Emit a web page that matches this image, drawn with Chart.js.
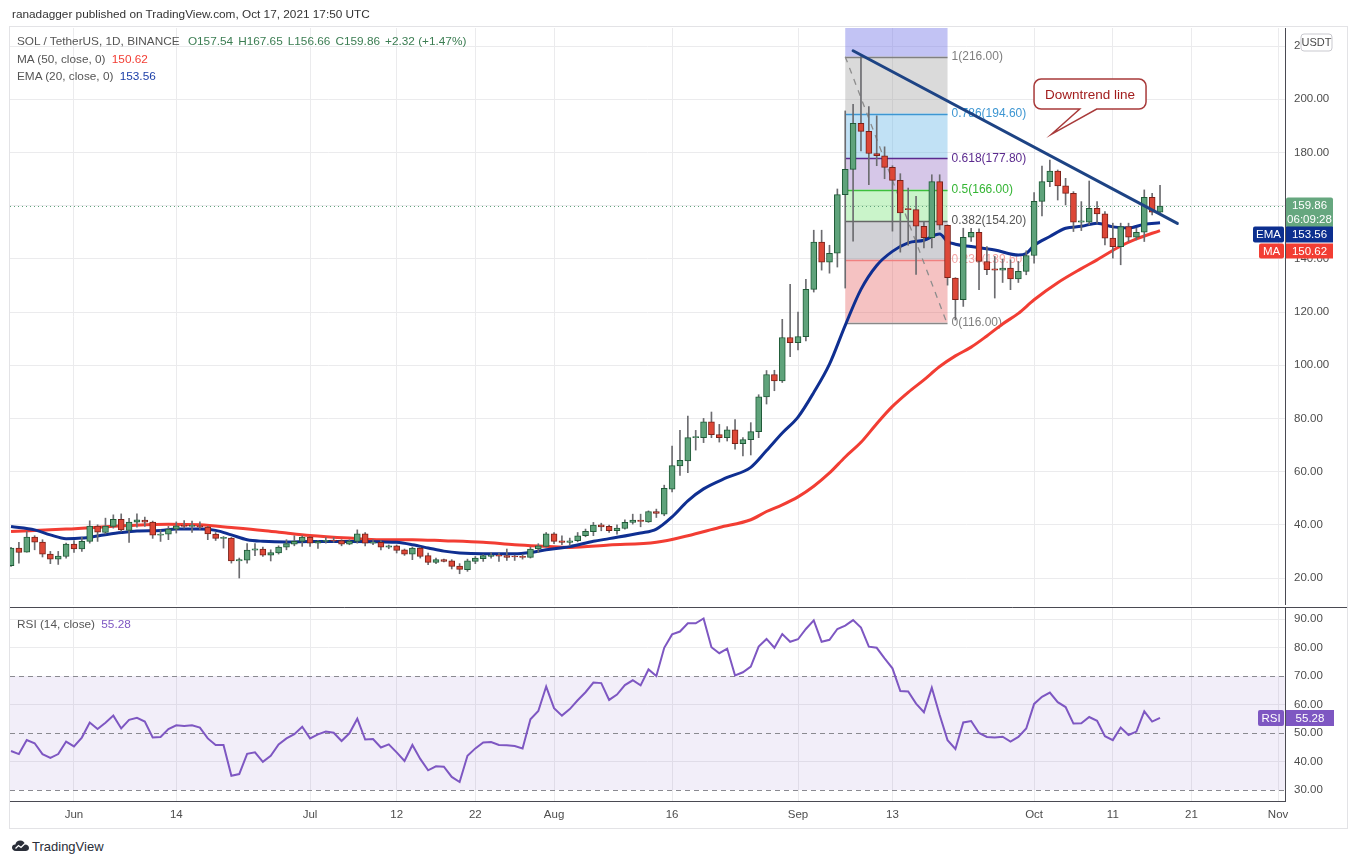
<!DOCTYPE html>
<html>
<head>
<meta charset="utf-8">
<script src="https://cdn.jsdelivr.net/npm/chart.js@4.4.0/dist/chart.umd.min.js"></script>
<style>
  body { margin:0; background:#fff; width:1357px; height:864px; overflow:hidden; position:relative; font-family:"Liberation Sans", Arial, sans-serif; }
  #frame { position:absolute; left:9px; top:26px; width:1339px; height:803px; border:1px solid #e3e3e6; box-sizing:border-box; }
  canvas { position:absolute; left:0; }
  #priceCanvas { top:0; }
  #rsiCanvas { top:605px; }
  .txt { position:absolute; white-space:nowrap; font-size:11.8px; color:#555; z-index:5; }
  .up { color:#3b7d52; margin-left:5px; }
</style>
</head>
<body>
<div id="frame"></div>
<canvas id="priceCanvas" width="1357" height="605"></canvas>
<canvas id="rsiCanvas" width="1357" height="223"></canvas>

<div class="txt" style="left:12px;top:7px;color:#333;">ranadagger published on TradingView.com, Oct 17, 2021 17:50 UTC</div>
<div class="txt" style="left:17px;top:34px;">SOL / TetherUS, 1D, BINANCE <span class="up">O157.54</span><span class="up">H167.65</span><span class="up">L156.66</span><span class="up">C159.86</span><span class="up">+2.32 (+1.47%)</span></div>
<div class="txt" style="left:17px;top:52px;">MA (50, close, 0) <span style="color:#f23d33;margin-left:3px;">150.62</span></div>
<div class="txt" style="left:17px;top:69px;">EMA (20, close, 0) <span style="color:#1c3fa8;margin-left:3px;">153.56</span></div>
<div class="txt" style="left:17px;top:617px;">RSI (14, close) <span style="color:#7e57c2;margin-left:3px;">55.28</span></div>
<div class="txt" style="left:12px;top:839px;color:#2a2e39;font-size:13px;">
  <svg width="17" height="12" viewBox="0 0 17 12" style="vertical-align:-1px;margin-right:3px;">
    <path d="M4 11 C1 11 0 9 0 7.5 C0 5.5 1.6 4.3 3.4 4.5 C3.8 2 5.8 0.5 8.2 0.5 C11 0.5 12.8 2.4 13.1 4.6 C15.3 4.6 17 6 17 8 C17 9.8 15.5 11 13.6 11 Z" fill="#2a2e39"/>
    <path d="M3.5 8.5 L6.5 5.5 L9 7.5 L13 3.5" stroke="#fff" stroke-width="1.3" fill="none"/>
  </svg>TradingView</div>

<script>
// day index 0 = May 24 2021, last candle = Oct 17 2021
var candleOpen = [24.6,31.25,29.75,35.4,33.5,29.0,27.1,28.1,32.75,30.9,
  33.75,39.5,37.1,39.4,42.1,37.9,41.0,41.75,41.0,36.1,
  36.5,38.4,39.6,39.4,39.6,39.1,36.5,34.9,35.0,26.4,
  26.75,30.5,30.9,28.6,29.4,31.6,32.75,33.75,35.4,33.1,
  33.75,34.1,34.1,32.75,33.75,36.6,33.1,33.4,31.6,32.1,
  30.6,29.0,31.25,28.4,25.9,26.9,26.5,24.5,23.1,26.25,
  27.25,28.1,28.6,28.4,28.1,28.1,27.75,30.9,31.9,36.6,
  34.0,33.4,34.0,35.9,37.4,40.0,39.4,37.75,38.6,40.9,
  41.75,41.1,45.0,44.0,53.4,62.1,64.0,72.75,72.75,78.75,
  73.9,72.75,75.75,70.5,72.0,75.0,88.1,96.5,94.1,110.4,
  108.5,110.75,128.5,146.25,138.75,142.1,164.1,173.6,190.9,187.9,
  179.6,178.75,174.4,169.5,158.75,158.5,152.25,147.9,169.0,152.6,
  132.75,124.6,148.1,150.0,139.0,136.25,135.75,136.5,132.4,135.25,
  141.25,161.6,169.0,173.0,167.4,164.6,153.75,153.75,159.0,156.9,
  147.75,144.6,152.1,148.1,150.0,163.1,157.54];
var candleHigh = [31.5,33.4,37.5,35.9,34.4,30.0,30.0,33.1,34.1,35.25,
  41.5,40.0,42.5,43.75,44.1,42.4,44.1,42.9,41.4,38.1,
  39.4,41.1,41.6,41.4,41.1,39.4,37.1,35.6,35.25,27.5,
  32.9,32.9,31.6,30.6,32.1,34.4,35.9,35.9,35.6,34.1,
  35.25,35.25,34.4,34.4,38.1,37.1,34.4,34.1,32.4,32.4,
  30.9,31.6,31.6,29.4,27.5,27.1,26.9,25.4,27.1,28.1,
  28.75,29.6,29.4,30.9,28.6,28.9,31.6,32.9,37.1,37.1,
  35.9,35.0,37.1,38.4,40.9,40.6,39.9,40.0,41.9,44.0,
  44.0,45.25,45.9,54.9,69.6,75.5,80.9,75.5,80.0,82.4,
  77.75,76.9,79.6,72.75,78.4,88.9,98.0,98.1,117.25,130.4,
  120.0,132.25,150.75,150.75,145.1,166.25,195.6,198.1,216.0,197.25,
  193.75,182.1,175.0,172.0,166.6,163.5,154.1,171.6,171.6,152.75,
  132.9,151.5,151.5,151.25,144.6,140.9,139.9,139.6,139.0,143.0,
  164.9,174.9,177.1,173.4,170.25,165.25,161.5,169.25,161.5,157.75,
  153.4,153.4,153.4,151.5,165.9,164.6,167.65];
var candleLow = [24.4,25.6,29.7,30.6,27.9,25.4,25.1,27.5,29.6,30.0,
  33.1,33.75,36.6,38.75,37.5,33.4,39.1,39.4,34.9,33.75,
  34.4,36.9,38.75,37.1,38.4,34.4,34.1,31.25,25.6,20.0,
  25.6,28.4,28.1,26.4,29.0,30.6,32.1,31.9,31.9,31.1,
  33.1,33.4,32.1,32.5,33.1,32.1,32.5,30.6,31.0,29.4,
  28.5,26.9,27.5,25.0,25.4,26.0,23.4,21.6,22.5,25.4,
  26.25,27.5,26.25,26.6,26.6,27.1,27.5,29.6,31.6,32.9,
  32.5,32.2,33.6,35.5,35.9,37.75,37.1,36.5,38.4,40.25,
  39.25,40.9,42.75,43.4,52.4,58.6,59.6,68.1,70.9,72.75,
  71.1,71.5,68.4,65.9,66.25,72.75,85.4,90.4,93.5,103.25,
  105.75,109.1,127.5,135.75,134.6,136.9,129.0,146.6,180.6,167.9,
  175.0,170.1,150.4,142.5,145.1,134.1,144.1,144.1,151.0,130.1,
  117.0,122.1,146.5,128.4,134.0,125.25,131.1,128.4,131.1,134.0,
  138.4,156.1,167.1,162.1,160.25,150.25,150.6,152.75,153.4,145.25,
  140.25,137.75,146.5,147.1,146.5,156.5,156.66];
var candleClose = [31.25,29.6,35.4,33.5,29.0,27.1,28.25,32.75,30.9,33.75,
  39.5,37.25,39.5,42.1,38.1,41.0,41.9,41.0,36.1,36.4,
  38.4,39.6,39.4,39.6,39.1,36.6,34.9,35.0,26.4,26.9,
  30.5,31.0,28.6,29.6,31.6,32.9,33.75,35.4,33.1,33.75,
  34.1,33.9,32.75,33.9,36.6,33.1,33.4,31.6,32.1,30.4,
  29.0,31.25,28.1,25.9,26.9,26.25,24.4,23.25,26.5,27.5,
  28.4,28.6,28.25,27.75,27.9,27.75,30.9,32.1,36.6,33.75,
  33.4,34.0,35.9,37.5,39.9,39.25,37.75,38.75,40.9,41.75,
  41.25,45.0,44.25,53.75,62.25,64.25,72.75,72.9,78.75,73.9,
  72.75,75.75,70.5,72.0,75.0,88.1,96.5,94.1,110.4,108.5,
  110.75,128.5,146.25,138.75,142.1,164.1,173.6,190.9,187.9,179.6,
  178.75,174.4,169.5,157.25,158.5,152.25,147.9,169.0,152.6,132.9,
  124.6,148.1,150.0,139.0,135.9,135.75,136.5,132.4,135.25,141.25,
  161.6,169.0,173.0,167.4,164.6,153.75,154.25,159.0,156.9,147.75,
  144.6,152.1,148.1,150.0,163.1,157.54,159.86];

// EMA 20 and MA 50 at these days
var emaDays = [0,3,5,7,9,11,14,16,19,21,24,26,28,30,32,35,38,43,47,49,51,53,55,57,60,64,66,68,71,74,76,80,82,84,86,88,91,94,96,98,100,102,104,106,108,110,112,114,116,118,119,120,122,125,128,129,130,132,134,136,138,140,142,144,146];
var emaValues = [39.4,38.1,36.2,34.8,35.0,35.8,37.1,37.7,37.9,38.4,38.4,37.9,36.2,34.4,33.8,33.5,33.7,33.75,33.6,33.4,32.5,31.3,30.1,29.4,29.1,29.1,29.6,30.6,31.8,33.8,34.8,36.9,38.4,43.0,49.0,53.5,57.8,61.6,67.9,74.5,80.5,89.75,100.4,115.0,128.5,137.5,142.8,146.0,147.0,149.3,146.5,145.5,144.6,143.3,141.4,142.0,145.0,148.4,151.5,152.2,153.4,152.0,151.6,153.0,153.56];
var maDays = [0,7,15,20,24,28,32,35,38,43,47,51,55,60,64,68,71,76,82,86,90,94,96,98,100,102,104,106,108,110,112,114,116,118,120,122,124,126,128,130,133,136,138,141,143,146];
var maValues = [37.5,38.4,39.75,40.25,40.0,39.0,37.9,36.9,36.0,35.0,34.4,34.4,34.0,33.4,32.5,31.9,31.5,32.4,33.4,35.9,39.0,41.9,45.0,47.5,50.5,54.5,59.5,65.5,71.0,78.0,84.5,89.8,94.5,99.5,103.5,106.8,111.0,115.5,119.5,124.6,131.0,136.3,139.6,144.8,147.5,150.62];

var rsiValues = [43.7,42.6,47.5,46.4,42.6,41.3,42.6,47.0,45.3,48.4,
  53.7,51.4,53.6,56.1,51.6,54.6,55.3,54.0,48.4,48.6,
  51.4,52.7,52.5,52.7,51.9,48.1,45.8,45.8,35.0,35.6,
  42.7,43.2,39.9,42.0,46.0,48.1,49.6,52.2,48.1,49.5,
  50.5,50.1,47.2,49.9,55.0,47.7,47.9,44.9,46.0,43.2,
  40.2,45.8,40.9,36.9,38.3,38.2,34.6,32.8,42.0,44.6,
  46.7,46.8,45.8,45.7,45.4,44.6,54.8,57.7,66.3,58.7,
  56.1,58.4,61.5,64.3,67.7,67.5,61.6,63.5,66.8,68.5,
  66.7,72.3,70.0,79.9,84.6,85.6,88.5,88.5,90.2,80.1,
  78.0,79.6,70.2,71.3,73.3,80.3,83.0,79.9,84.7,82.0,
  82.9,86.5,89.5,82.0,82.7,86.5,87.7,89.6,87.0,80.3,
  79.9,76.2,72.7,64.7,64.6,60.3,57.3,65.9,56.3,47.5,
  44.4,53.7,54.2,50.0,48.6,48.4,48.7,47.0,48.6,51.6,
  60.2,62.7,64.2,60.8,59.1,53.3,53.4,55.6,54.3,48.9,
  47.5,51.9,49.3,50.5,57.6,54.0,55.28];

var tickDays = [8,21,38,49,59,69,84,100,112,130,140,150,161];
var tickLabels = ['Jun','14','Jul','12','22','Aug','16','Sep','13','Oct','11','21','Nov'];
var priceTicks = [20,40,60,80,100,120,140,160,180,200,220];
var rsiTicks = [30,40,50,60,70,80,90];

var fibLevels = [216.00,194.60,177.80,166.00,154.20,139.60,116.00];
var fibRatios = ['1','0.786','0.618','0.5','0.382','0.236','0'];
var fibStartDay = 106, fibEndDay = 119;
var trendDays = [107.0,148.2], trendPrices = [218.2,153.3];
var fibLinkDays = [106.0,118.9], fibLinkPrices = [216.0,116.0];
var calloutDay = 132.24, calloutPrice = 186.9;

var lastPrice = 159.86, lastEma = 153.56, lastMa = 150.62, lastRsi = 55.28;

// styles
var fibLineColors = ['#808080','#3d96d2','#5b2a8e','#3cbf3c','#666666','#f08080','#888888'];
var fibTextColors = ['#7f7f7f','#3d96d2','#5b2a8e','#34b534','#555555','#f2a3a3','#808080'];
var fibFills = ['rgba(150,150,150,0.35)','rgba(100,180,230,0.40)','rgba(120,70,180,0.30)','rgba(80,220,80,0.30)','rgba(120,120,135,0.35)','rgba(225,80,80,0.35)'];
var fibTopFill = 'rgba(120,123,230,0.45)';
var GREEN = '#5fa37b', GREEN_EDGE = '#1f5a37', RED = '#dd4737', RED_EDGE = '#7a2119';
var GRID = '#ebebed', AXIS = '#4a4a52', LABEL = '#4d4d4d';
var FONT = 'Liberation Sans, Arial, sans-serif';

var xMin = -0.13, xMax = 161.88;

var bodies = [], wicks = [], bodyFill = [], bodyEdge = [];
candleOpen.forEach(function(o, i) {
  var c = candleClose[i];
  bodies.push({x: i, y: [o, c]});
  wicks.push({x: i, y: [candleLow[i], candleHigh[i]]});
  bodyFill.push(c >= o ? GREEN : RED);
  bodyEdge.push(c >= o ? GREEN_EDGE : RED_EDGE);
});
var emaPoints = emaDays.map(function(d, i) { return {x: d, y: emaValues[i]}; });
var maPoints = maDays.map(function(d, i) { return {x: d, y: maValues[i]}; });
var rsiPoints = rsiValues.map(function(v, i) { return {x: i, y: v}; });

function clipArea(ctx, a) {
  ctx.beginPath();
  ctx.rect(a.left, a.top, a.right - a.left, a.bottom - a.top);
  ctx.clip();
}

function roundBox(ctx, x, y, w, h, r, fill) {
  ctx.beginPath();
  ctx.roundRect(x, y, w, h, r);
  ctx.fillStyle = fill;
  ctx.fill();
}

var pricePlugin = {
  id: 'priceExtras',
  beforeDatasetsDraw: function(chart) {
    var ctx = chart.ctx, a = chart.chartArea, xs = chart.scales.x, ys = chart.scales.y;
    ctx.save();
    clipArea(ctx, a);
    var x0 = xs.getPixelForValue(fibStartDay), x1 = xs.getPixelForValue(fibEndDay);
    // fib bands
    ctx.fillStyle = fibTopFill;
    ctx.fillRect(x0, a.top, x1 - x0, ys.getPixelForValue(fibLevels[0]) - a.top);
    for (var k = 0; k < fibLevels.length - 1; k++) {
      var yA = ys.getPixelForValue(fibLevels[k]), yB = ys.getPixelForValue(fibLevels[k + 1]);
      ctx.fillStyle = fibFills[k];
      ctx.fillRect(x0, yA, x1 - x0, yB - yA);
    }
    ctx.lineWidth = 1.5;
    fibLevels.forEach(function(lv, k) {
      var y = Math.round(ys.getPixelForValue(lv)) + 0.5;
      ctx.strokeStyle = fibLineColors[k];
      ctx.beginPath(); ctx.moveTo(x0, y); ctx.lineTo(x1, y); ctx.stroke();
    });
    ctx.font = '12px ' + FONT;
    ctx.textBaseline = 'middle';
    ctx.textAlign = 'left';
    fibLevels.forEach(function(lv, k) {
      ctx.fillStyle = fibTextColors[k];
      ctx.fillText(fibRatios[k] + '(' + lv.toFixed(2) + ')', x1 + 4, ys.getPixelForValue(lv));
    });
    // dashed link of the fib
    ctx.strokeStyle = '#8c8c8c';
    ctx.lineWidth = 1.3;
    ctx.setLineDash([6, 6]);
    ctx.beginPath();
    ctx.moveTo(xs.getPixelForValue(fibLinkDays[0]), ys.getPixelForValue(fibLinkPrices[0]));
    ctx.lineTo(xs.getPixelForValue(fibLinkDays[1]), ys.getPixelForValue(fibLinkPrices[1]));
    ctx.stroke();
    // last price dotted line
    var yp = Math.round(ys.getPixelForValue(lastPrice)) + 0.5;
    ctx.strokeStyle = GREEN;
    ctx.lineWidth = 1;
    ctx.setLineDash([1, 3]);
    ctx.beginPath(); ctx.moveTo(a.left, yp); ctx.lineTo(a.right, yp); ctx.stroke();
    ctx.restore();
  },
  afterDatasetsDraw: function(chart) {
    var ctx = chart.ctx, a = chart.chartArea, xs = chart.scales.x, ys = chart.scales.y;
    ctx.save();
    clipArea(ctx, a);
    // downtrend line
    ctx.strokeStyle = '#1d4384';
    ctx.lineWidth = 3;
    ctx.lineCap = 'round';
    ctx.beginPath();
    ctx.moveTo(xs.getPixelForValue(trendDays[0]), ys.getPixelForValue(trendPrices[0]));
    ctx.lineTo(xs.getPixelForValue(trendDays[1]), ys.getPixelForValue(trendPrices[1]));
    ctx.stroke();
    // callout
    var tx = xs.getPixelForValue(calloutDay), ty = ys.getPixelForValue(calloutPrice);
    var left = tx - 17.7, right = tx + 94.3, top = ty - 55, bottom = ty - 25, r = 7;
    var b1 = tx + 28, b2 = tx + 45;
    ctx.beginPath();
    ctx.moveTo(left + r, top);
    ctx.lineTo(right - r, top);
    ctx.arcTo(right, top, right, top + r, r);
    ctx.lineTo(right, bottom - r);
    ctx.arcTo(right, bottom, right - r, bottom, r);
    ctx.lineTo(b2, bottom);
    ctx.lineTo(tx, ty);
    ctx.lineTo(b1, bottom);
    ctx.lineTo(left + r, bottom);
    ctx.arcTo(left, bottom, left, bottom - r, r);
    ctx.lineTo(left, top + r);
    ctx.arcTo(left, top, left + r, top, r);
    ctx.closePath();
    ctx.fillStyle = '#ffffff';
    ctx.fill();
    ctx.strokeStyle = '#a83a3a';
    ctx.lineWidth = 1.5;
    ctx.lineCap = 'butt';
    ctx.stroke();
    ctx.fillStyle = '#a21d1d';
    ctx.font = '13.5px ' + FONT;
    ctx.textAlign = 'center';
    ctx.textBaseline = 'middle';
    ctx.fillText('Downtrend line', (left + right) / 2, (top + bottom) / 2 + 1);
    ctx.restore();
  },
  afterDraw: function(chart) {
    var ctx = chart.ctx, ys = chart.scales.y, ax = ys.left;
    ctx.save();
    // USDT badge
    ctx.beginPath();
    ctx.roundRect(ax + 16, 34, 31, 17, 3);
    ctx.fillStyle = '#fff'; ctx.fill();
    ctx.strokeStyle = '#c9c9cf'; ctx.lineWidth = 1; ctx.stroke();
    ctx.fillStyle = '#4a4a4a';
    ctx.font = '11px ' + FONT;
    ctx.textAlign = 'center'; ctx.textBaseline = 'middle';
    ctx.fillText('USDT', ax + 31.5, 43);
    // last price badge
    var py = ys.getPixelForValue(lastPrice);
    var top = py - 8.5;
    roundBox(ctx, ax + 1, top, 47, 30, 2, '#66a77f');
    ctx.fillStyle = '#fff';
    ctx.font = '11.5px ' + FONT;
    ctx.fillText(lastPrice.toFixed(2), ax + 24.5, top + 8.5);
    ctx.fillText('06:09:28', ax + 24.5, top + 22);
    // EMA badge
    var ey = top + 29;
    roundBox(ctx, ax - 32, ey, 31, 16, 2, '#0c2f8f');
    roundBox(ctx, ax + 1, ey, 47, 16, 0, '#0c2f8f');
    ctx.fillStyle = '#fff';
    ctx.fillText('EMA', ax - 16.5, ey + 8.5);
    ctx.fillText(lastEma.toFixed(2), ax + 24.5, ey + 8.5);
    // MA badge
    var my = ey + 17;
    roundBox(ctx, ax - 26, my, 25, 15, 2, '#f23d33');
    roundBox(ctx, ax + 1, my, 47, 15, 0, '#f23d33');
    ctx.fillStyle = '#fff';
    ctx.fillText('MA', ax - 13.5, my + 8);
    ctx.fillText(lastMa.toFixed(2), ax + 24.5, my + 8);
    ctx.restore();
  }
};

var rsiPlugin = {
  id: 'rsiExtras',
  beforeDatasetsDraw: function(chart) {
    var ctx = chart.ctx, a = chart.chartArea, ys = chart.scales.y;
    ctx.save();
    var y70 = ys.getPixelForValue(70), y30 = ys.getPixelForValue(30);
    ctx.fillStyle = 'rgba(126,87,194,0.10)';
    ctx.fillRect(a.left, y70, a.right - a.left, y30 - y70);
    ctx.strokeStyle = '#8a8a90';
    ctx.lineWidth = 1;
    ctx.setLineDash([5, 4]);
    [30, 50, 70].forEach(function(v) {
      var y = Math.round(ys.getPixelForValue(v)) + 0.5;
      ctx.beginPath(); ctx.moveTo(a.left, y); ctx.lineTo(a.right, y); ctx.stroke();
    });
    ctx.restore();
  },
  afterDraw: function(chart) {
    var ctx = chart.ctx, a = chart.chartArea, ys = chart.scales.y, ax = ys.left;
    ctx.save();
    // separator between panes
    ctx.strokeStyle = AXIS;
    ctx.lineWidth = 1;
    ctx.beginPath(); ctx.moveTo(10, 2.5); ctx.lineTo(1347, 2.5); ctx.stroke();
    var ry = ys.getPixelForValue(lastRsi);
    roundBox(ctx, ax - 27, ry - 8, 26, 16, 2, '#7e57c2');
    roundBox(ctx, ax + 1, ry - 8, 48, 16, 0, '#7e57c2');
    ctx.fillStyle = '#fff';
    ctx.font = '11.5px ' + FONT;
    ctx.textAlign = 'center'; ctx.textBaseline = 'middle';
    ctx.fillText('RSI', ax - 14, ry + 0.5);
    ctx.fillText(lastRsi.toFixed(2), ax + 25, ry + 0.5);
    ctx.restore();
  }
};

function setTicks(list) {
  return function(axis) { axis.ticks = list.map(function(v) { return {value: v}; }); };
}
// keep the axes from reserving room for half-labels at the ends
function fixWidth(w) {
  return function(ax) { ax.width = w; ax.paddingTop = 0; ax.paddingBottom = 0; };
}
function fixHeight(h) {
  return function(ax) { ax.height = h; ax.paddingLeft = 0; ax.paddingRight = 0; };
}

new Chart(document.getElementById('priceCanvas'), {
  type: 'bar',
  data: {
    datasets: [
      { type: 'bar', data: bodies, backgroundColor: bodyFill, borderColor: bodyEdge, borderWidth: 1,
        borderSkipped: false, barThickness: 6, grouped: false, minBarLength: 1, order: 1 },
      { type: 'bar', data: wicks, backgroundColor: '#6c6c70', barThickness: 1, grouped: false, order: 2 },
      { type: 'line', data: emaPoints, borderColor: '#0f2f91', borderWidth: 3, pointRadius: 0,
        cubicInterpolationMode: 'monotone', order: 3 },
      { type: 'line', data: maPoints, borderColor: '#f23d33', borderWidth: 3, pointRadius: 0,
        cubicInterpolationMode: 'monotone', order: 4 }
    ]
  },
  options: {
    responsive: false,
    animation: false,
    layout: { padding: { left: 10, right: 10, top: 28, bottom: 0 } },
    plugins: { legend: { display: false }, tooltip: { enabled: false } },
    scales: {
      x: {
        type: 'linear', min: xMin, max: xMax, offset: false,
        grid: { color: GRID, drawTicks: false, offset: false },
        border: { display: false },
        ticks: { display: false },
        afterBuildTicks: setTicks(tickDays),
        afterFit: fixHeight(0)
      },
      y: {
        position: 'right', min: 9.85, max: 226.77,
        grid: { color: GRID, drawTicks: false },
        border: { display: true, color: AXIS, width: 1 },
        ticks: { padding: 9, color: LABEL, font: { family: FONT, size: 11.5 },
          callback: function(v) { return v.toFixed(2); } },
        afterBuildTicks: setTicks(priceTicks),
        afterFit: fixWidth(62)
      }
    }
  },
  plugins: [pricePlugin]
});

new Chart(document.getElementById('rsiCanvas'), {
  type: 'line',
  data: {
    datasets: [
      { data: rsiPoints, borderColor: '#7e57c2', borderWidth: 2, pointRadius: 0, tension: 0 }
    ]
  },
  options: {
    responsive: false,
    animation: false,
    layout: { padding: { left: 10, right: 10, top: 3, bottom: 0 } },
    plugins: { legend: { display: false }, tooltip: { enabled: false } },
    scales: {
      x: {
        type: 'linear', min: xMin, max: xMax, offset: false,
        grid: { color: GRID, drawTicks: false },
        border: { display: true, color: AXIS, width: 1 },
        ticks: { padding: 7, color: LABEL, font: { family: FONT, size: 11.5 }, maxRotation: 0,
          callback: function(v) { var k = tickDays.indexOf(v); return k < 0 ? '' : tickLabels[k]; } },
        afterBuildTicks: setTicks(tickDays),
        afterFit: fixHeight(27)
      },
      y: {
        position: 'right', min: 26.14, max: 93.86,
        grid: { drawTicks: false,
          color: function(c) { var v = c.tick && c.tick.value; return (v === 30 || v === 50 || v === 70) ? 'rgba(0,0,0,0)' : GRID; } },
        border: { display: true, color: AXIS, width: 1 },
        ticks: { padding: 9, color: LABEL, font: { family: FONT, size: 11.5 },
          callback: function(v) { return v.toFixed(2); } },
        afterBuildTicks: setTicks(rsiTicks),
        afterFit: fixWidth(62)
      }
    }
  },
  plugins: [rsiPlugin]
});
</script>
</body>
</html>
